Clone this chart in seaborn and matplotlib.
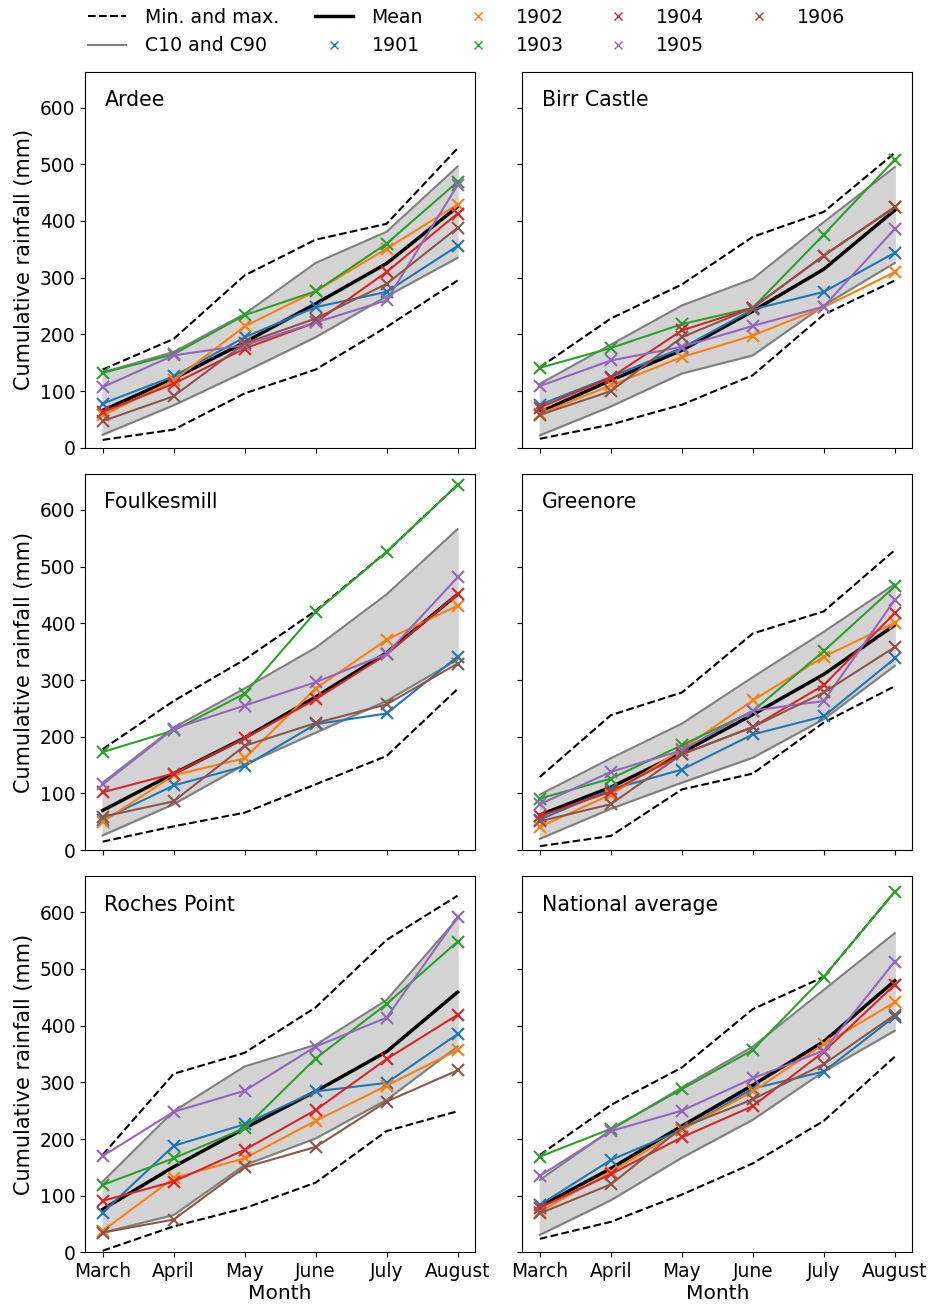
import pandas as pd
import matplotlib
matplotlib.use("Agg")
import matplotlib.pyplot as plt
import seaborn as sns
from matplotlib.lines import Line2D

# Months and years
months = ["March", "April", "May", "June", "July", "August"]
years = ["1901", "1902", "1903", "1904", "1905", "1906"]
stations = ["Ardee", "Birr Castle", "Foulkesmill", "Greenore", "Roches Point", "National average"]

# Cumulative rainfall (mm)
ardee = {
    "max": [138, 192, 304, 367, 395, 528],
    "min": [14, 32, 96, 138, 213, 295],
    "c90": [133, 169, 236, 326, 381, 496],
    "c10": [23, 75, 134, 195, 267, 335],
    "mean": [66, 122, 186, 254, 325, 425],
    "1901": [78, 126, 195, 248, 275, 356],
    "1902": [57, 119, 214, 276, 351, 429],
    "1903": [132, 165, 234, 276, 360, 469],
    "1904": [63, 113, 175, 221, 310, 413],
    "1905": [107, 163, 181, 221, 260, 463],
    "1906": [47, 91, 184, 228, 289, 388],
}
birr = {
    "max": [142, 228, 288, 372, 416, 520],
    "min": [16, 41, 76, 128, 235, 295],
    "c90": [113, 182, 251, 298, 398, 495],
    "c10": [22, 73, 131, 163, 251, 326],
    "mean": [63, 119, 172, 241, 315, 419],
    "1901": [76, 125, 176, 244, 275, 344],
    "1902": [60, 110, 160, 198, 248, 310],
    "1903": [141, 176, 218, 247, 376, 508],
    "1904": [71, 124, 207, 247, 339, 424],
    "1905": [109, 154, 178, 215, 249, 386],
    "1906": [58, 100, 195, 247, 339, 425],
}
foulkesmill = {
    "max": [178, 263, 336, 422, 526, 644],
    "min": [15, 42, 66, 116, 166, 284],
    "c90": [119, 216, 285, 357, 451, 566],
    "c10": [26, 81, 151, 207, 263, 336],
    "mean": [70, 135, 198, 270, 348, 451],
    "1901": [54, 114, 148, 222, 241, 341],
    "1902": [50, 132, 162, 285, 371, 431],
    "1903": [173, 211, 276, 420, 526, 644],
    "1904": [102, 135, 197, 266, 345, 452],
    "1905": [116, 214, 255, 296, 346, 481],
    "1906": [59, 86, 184, 224, 257, 329],
}
greenore = {
    "max": [129, 238, 278, 382, 421, 529],
    "min": [7, 25, 107, 135, 225, 289],
    "c90": [98, 162, 223, 305, 385, 469],
    "c10": [20, 73, 119, 163, 231, 325],
    "mean": [62, 111, 172, 239, 310, 397],
    "1901": [54, 107, 142, 204, 236, 338],
    "1902": [41, 98, 178, 264, 341, 401],
    "1903": [91, 126, 185, 245, 351, 465],
    "1904": [60, 103, 169, 217, 291, 418],
    "1905": [81, 138, 176, 246, 263, 441],
    "1906": [51, 81, 169, 217, 278, 358],
}
roches = {
    "max": [172, 315, 352, 432, 551, 629],
    "min": [3, 46, 78, 123, 214, 249],
    "c90": [125, 249, 328, 366, 445, 589],
    "c10": [35, 66, 154, 201, 269, 363],
    "mean": [76, 151, 219, 284, 354, 459],
    "1901": [70, 188, 226, 284, 299, 385],
    "1902": [38, 131, 166, 232, 294, 357],
    "1903": [119, 166, 219, 342, 438, 548],
    "1904": [91, 125, 181, 251, 341, 419],
    "1905": [170, 248, 285, 363, 414, 591],
    "1906": [35, 58, 150, 186, 266, 321],
}
national = {
    "max": [172, 260, 326, 429, 486, 636],
    "min": [24, 54, 102, 157, 232, 345],
    "c90": [128, 216, 291, 363, 463, 563],
    "c10": [31, 92, 167, 234, 319, 391],
    "mean": [81, 148, 223, 295, 372, 479],
    "1901": [84, 163, 216, 289, 319, 416],
    "1902": [72, 142, 216, 284, 367, 441],
    "1903": [169, 218, 288, 357, 486, 636],
    "1904": [79, 138, 203, 258, 354, 472],
    "1905": [135, 214, 250, 307, 356, 513],
    "1906": [69, 120, 220, 270, 332, 419],
}
station_data = [ardee, birr, foulkesmill, greenore, roches, national]

colors = sns.color_palette("tab10", 6)
plt.rcParams["font.size"] = 13

fig, axes = plt.subplots(3, 2, figsize=(9.33, 13.06), dpi=100, sharex=True, sharey=True)
fig.subplots_adjust(left=0.091, right=0.978, top=0.945, bottom=0.041, wspace=0.12, hspace=0.07)

for ax, name, d in zip(axes.flat, stations, station_data):
    x = list(range(len(months)))
    ax.fill_between(x, d["c10"], d["c90"], color="lightgrey", zorder=1)
    sns.lineplot(x=x, y=d["c10"], ax=ax, color="grey", lw=1.5, zorder=2)
    sns.lineplot(x=x, y=d["c90"], ax=ax, color="grey", lw=1.5, zorder=2)
    sns.lineplot(x=x, y=d["min"], ax=ax, color="black", lw=1.5, ls="--", zorder=2)
    sns.lineplot(x=x, y=d["max"], ax=ax, color="black", lw=1.5, ls="--", zorder=2)
    sns.lineplot(x=x, y=d["mean"], ax=ax, color="black", lw=2.5, zorder=3)
    for yr, c in zip(years, colors):
        sns.lineplot(x=x, y=d[yr], ax=ax, color=c, lw=1.5, marker="x",
                     markersize=8, markeredgewidth=1.5, markeredgecolor=c, zorder=4)
    ax.text(0.05, 0.925, name, transform=ax.transAxes, fontsize=14.8, va="center")
    ax.set_ylim(0, 663)
    ax.set_xticks(x)
    ax.set_xticklabels(months)
    ax.set_xlabel("")
    ax.set_ylabel("")

for ax in axes[:, 0]:
    ax.set_ylabel("Cumulative rainfall (mm)", fontsize=15)
for ax in axes[-1, :]:
    ax.set_xlabel("Month", fontsize=14.6, labelpad=2)
    ax.tick_params(axis="x", labelsize=13.4)
for ax in axes.flat:
    ax.tick_params(axis="y", labelsize=13.4)

handles = [
    Line2D([], [], color="black", ls="--", lw=1.5),
    Line2D([], [], color="grey", lw=1.5),
    Line2D([], [], color="black", lw=2.5),
] + [Line2D([], [], color=c, ls="none", marker="x") for c in colors]
labels = ["Min. and max.", "C10 and C90", "Mean"] + years
fig.legend(handles, labels, loc="upper center", bbox_to_anchor=(0.5, 1.007),
           ncol=5, frameon=False, fontsize=13.6, columnspacing=1.9, handletextpad=1.0)

plt.savefig("out.png", dpi=100)
